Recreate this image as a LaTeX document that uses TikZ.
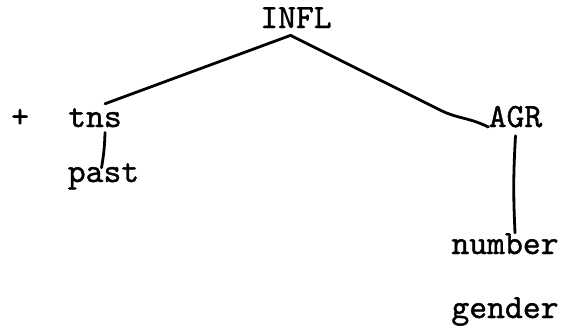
\documentclass[tikz,border=0pt]{standalone}
\usepackage{fontspec}
\usepackage{tikz}
\usetikzlibrary{positioning}
\newfontfamily\typefont{lmmono10-regular.otf}[FakeBold=1.1]
\begin{document}
\begin{tikzpicture}[x=0.5pt,y=-0.5pt,
  word/.style={font=\typefont\fontsize{17}{20}\selectfont, inner sep=0pt, anchor=base},
  branch/.style={line width=1.4pt, line join=round, line cap=round}]
\useasboundingbox (0,0) rectangle (565,328);
% words
\node[word] (infl) at (296,28) {INFL};
\node[word] (plus) at (20,127) {+};
\node[word] (tns) at (95,127) {tns};
\node[word] (agr) at (515.5,127) {AGR};
\node[word] (past) at (103.5,182) {past};
\node[word] (number) at (505,254) {number};
\node[word] (gender) at (505,318) {gender};
% branches
\coordinate (apex) at ([shift={(-2.75pt,-3.5pt)}]infl.south);
\draw[branch] (apex) -- ([shift={(5pt,2pt)}]tns.north);
\draw[branch] (apex) -- (440,110) .. controls (458,119) and (468,117) .. (agr.base west);
\draw[branch] ([shift={(5pt,-2.5pt)}]tns.south) to[bend left=4] ([shift={(-1pt,-2.5pt)}]past.north);
\draw[branch] ([yshift=-4pt]agr.south) to[bend right=3] ([xshift=5pt]number.north);
\end{tikzpicture}
\end{document}
